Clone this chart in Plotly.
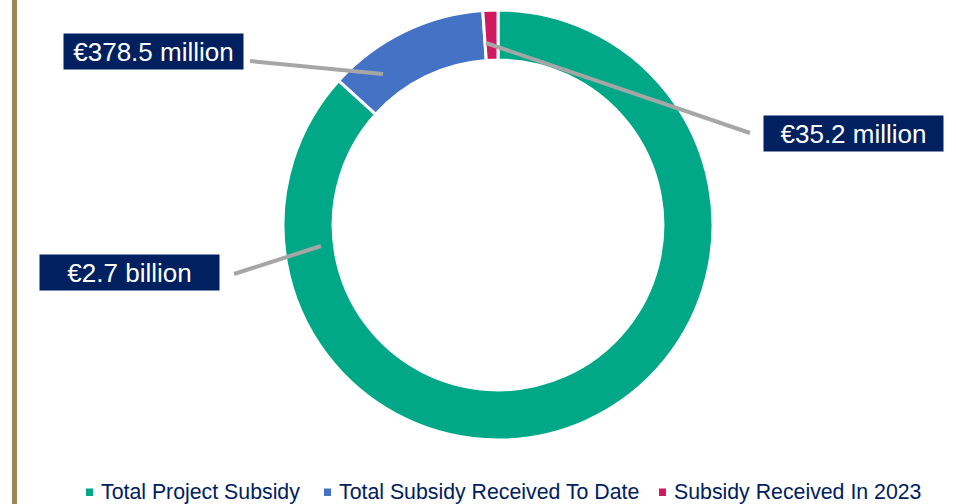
import plotly.graph_objects as go

# ---- data ----
categories = ["Total Project Subsidy", "Total Subsidy Received To Date", "Subsidy Received In 2023"]
values_meur = [2700.0, 378.5, 35.2]
value_labels = ["€2.7 billion", "€378.5 million", "€35.2 million"]
colors = ["#00A887", "#4472C4", "#D0195E"]

W, H = 956, 504
NAVY = "#002060"
FONT = "Arial, Liberation Sans, sans-serif"


def px(x):
    return x / W


def py(y):
    return 1 - y / H


fig = go.Figure()
fig.add_trace(go.Pie(
    labels=categories,
    values=values_meur,
    hole=0.767,
    sort=False,
    direction="clockwise",
    rotation=0,
    textinfo="none",
    hoverinfo="label+value",
    marker=dict(colors=colors, line=dict(color="white", width=3)),
    domain=dict(x=[px(283), px(713)], y=[py(440), py(10)]),
    showlegend=False,
))

shapes = []
annotations = []

# left decorative rule
shapes.append(dict(type="rect", xref="paper", yref="paper",
                   x0=px(12), x1=px(17), y0=0, y1=1,
                   fillcolor="#9B8660", line=dict(width=0), layer="above"))

# leader lines + label boxes (order: green, blue, red)
leaders = [
    ((234, 274), (321, 246)),
    ((250, 61), (383, 74)),
    ((486, 43), (750, 133)),
]
box_centers = [(129.5, 272.5), (153.5, 51.5), (853.5, 133.5)]
for (p0, p1), (cx, cy), lab in zip(leaders, box_centers, value_labels):
    shapes.append(dict(type="line", xref="paper", yref="paper",
                       x0=px(p0[0]), y0=py(p0[1]), x1=px(p1[0]), y1=py(p1[1]),
                       line=dict(color="#A6A6A6", width=4), layer="above"))
    annotations.append(dict(
        xref="paper", yref="paper", x=px(cx), y=py(cy),
        xanchor="center", yanchor="middle", showarrow=False,
        text=lab, width=179, height=35, bgcolor=NAVY, borderpad=0,
        font=dict(family=FONT, size=26, color="white"),
    ))

# custom legend
legend_marker_x = [86, 324, 659]
for mx, cat, col in zip(legend_marker_x, categories, colors):
    shapes.append(dict(type="rect", xref="paper", yref="paper",
                       x0=px(mx), x1=px(mx + 7), y0=py(496), y1=py(488.5),
                       fillcolor=col, line=dict(width=0)))
    annotations.append(dict(
        xref="paper", yref="paper", x=px(mx + 13), y=py(491.5),
        xanchor="left", yanchor="middle", showarrow=False,
        text=cat, font=dict(family=FONT, size=21.3, color=NAVY),
    ))

fig.update_layout(
    width=W, height=H,
    margin=dict(l=0, r=0, t=0, b=0),
    paper_bgcolor="white", plot_bgcolor="white",
    shapes=shapes, annotations=annotations,
    showlegend=False,
)

fig.write_html(
    "out.html",
    config={"displayModeBar": False},
    post_script="document.body.style.margin='0';document.body.style.padding='0';"
                "document.body.style.overflow='hidden';",
)
